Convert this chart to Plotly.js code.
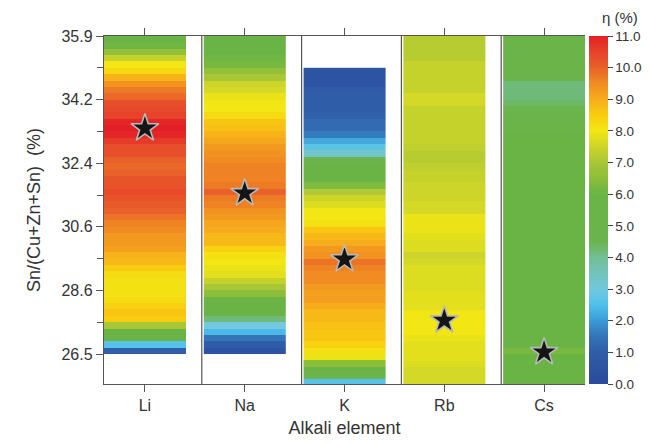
<!DOCTYPE html>
<html>
<head>
<meta charset="utf-8">
<script src="https://cdn.plot.ly/plotly-3.0.1.min.js"></script>
<style>html,body{margin:0;padding:0;background:#fff;}#chart{width:649px;height:444px;}</style>
</head>
<body>
<div id="chart"></div>
<script>
// Categories (alkali elements)
const elements = ["Li", "Na", "K", "Rb", "Cs"];

// Y axis tick labels: Sn/(Cu+Zn+Sn) (%) at equally spaced index positions 0..5
const snTickLabels = ["26.5", "28.6", "30.6", "32.4", "34.2", "35.9"];

// Top of each strip, in axis index units
const stripTop = [5, 5, 4.5, 5, 5];
const rowStep = 0.1;

// Efficiency (%) per stripe, listed from the top of the strip downward
const effLi = [6.0,6.1,6.6,7.4,8.0,8.3,8.9,9.4,9.7,9.9,
               10.3,10.4,10.5,10.9,11.0,10.9,10.6,10.3,10.3,10.0,
               9.9,10.0,10.2,10.2,10.4,10.2,10.1,10.0,9.8,9.6,
               9.5,9.3,9.3,9.2,8.9,8.8,8.5,8.2,8.1,8.1,
               8.1,8.2,8.4,8.6,8.5,7.0,6.0,5.8,2.6,1.0];
const effNa = [6.0,6.0,6.0,6.1,6.2,6.6,7.0,7.5,7.6,7.9,
               8.0,8.0,8.2,8.6,8.7,8.9,9.1,9.3,9.4,9.5,
               9.6,9.6,9.6,9.7,10.0,9.7,9.6,9.4,9.3,9.1,
               9.0,8.8,8.8,8.4,8.1,8.0,7.9,7.8,7.4,7.0,
               6.5,6.0,6.0,5.8,4.2,3.0,2.4,1.5,1.0,0.5];
const effK  = [0.5,0.5,0.6,0.9,1.0,1.0,1.0,1.1,1.3,1.3,
               1.6,2.2,2.7,3.3,4.5,5.8,6.0,6.0,6.3,7.1,
               7.5,7.7,8.0,8.0,8.1,8.6,8.8,9.0,9.3,9.4,
               9.8,9.6,9.5,9.5,9.3,9.2,9.2,9.0,8.8,8.8,
               8.7,8.6,8.6,8.4,8.1,7.9,6.5,6.0,4.5,2.6];
const effRb = [7.2,7.2,7.2,7.2,7.4,7.4,7.4,7.4,7.4,7.6,
               7.6,7.4,7.4,7.4,7.4,7.4,7.4,7.3,7.2,7.2,
               7.3,7.4,7.4,7.5,7.5,7.5,7.6,7.6,7.9,7.9,
               7.9,7.8,7.7,7.7,7.5,7.6,7.7,7.7,7.7,7.7,
               7.8,7.8,7.8,8.0,8.0,8.0,8.0,7.9,7.8,7.8,
               7.8,7.7,7.6,7.6,7.6];
const effCs = [5.5,5.5,5.5,5.5,5.4,5.2,4.6,4.2,4.2,4.2,
               4.3,4.8,5.0,5.4,5.6,5.8,6.0,6.0,6.0,6.0,
               6.0,6.0,6.0,6.0,6.0,6.0,6.0,6.0,6.0,6.0,
               6.0,6.0,6.0,6.0,6.0,6.0,6.0,6.0,6.0,6.0,
               6.0,6.0,6.0,6.0,6.0,6.0,6.0,6.0,6.0,6.2,
               6.0,6.0,6.0,6.0,6.0];
const effColumns = [effLi, effNa, effK, effRb, effCs];

// Best composition (star) per element, in axis index units
const starRow = [3.55, 2.53, 1.49, 0.53, 0.03];

const colorscale = [
  [0/11, "#2b4a9b"], [1/11, "#2f5da8"], [1.5/11, "#3474b8"], [2/11, "#3b9ad6"],
  [2.5/11, "#4fc0ec"], [3/11, "#72c8de"], [4/11, "#72be95"], [4.5/11, "#6cb44e"],
  [6/11, "#6ab446"], [6.5/11, "#8cbe3a"], [7/11, "#a9c636"], [7.5/11, "#cdd52a"],
  [8/11, "#f2e614"], [8.5/11, "#f9cd0f"], [9/11, "#f6ac1c"], [9.5/11, "#f08c22"],
  [10/11, "#e9602a"], [10.5/11, "#e6432a"], [11/11, "#e31f26"]
];

const halfW = 0.41;
const font = "Liberation Sans, Arial, sans-serif";
const traces = [];
effColumns.forEach((col, i) => {
  const n = col.length;
  const zRows = col.slice().reverse().map(v => [v]);
  const yEdges = [];
  for (let k = 0; k <= n; k++) yEdges.push(stripTop[i] - rowStep * n + rowStep * k);
  traces.push({
    type: "heatmap",
    x: [i - halfW, i + halfW],
    y: yEdges,
    z: zRows,
    zmin: 0, zmax: 11,
    colorscale: colorscale,
    zsmooth: false,
    showscale: i === 0,
    hoverinfo: "skip",
    colorbar: {
      x: 1.006, xanchor: "left", y: 0, yanchor: "bottom", len: 1, lenmode: "fraction",
      thickness: 19, ypad: 0, xpad: 1, outlinewidth: 0,
      tickmode: "linear", tick0: 0, dtick: 1, tickformat: ".1f",
      ticks: "outside", ticklen: 5, tickcolor: "#444",
      tickfont: {family: font, size: 13.5, color: "#333"}
    }
  });
});

traces.push({
  type: "scatter", mode: "markers",
  x: elements.map((_, i) => i),
  y: starRow,
  marker: {symbol: "star", size: 21, color: "#151515", line: {color: "#b8b8b8", width: 1.6}},
  hoverinfo: "skip", showlegend: false
});

const shapes = [];
for (let i = 1; i < elements.length; i++) {
  shapes.push({type: "line", xref: "x", yref: "paper", x0: i - 0.43, x1: i - 0.43, y0: 0, y1: 1,
    line: {color: "#555", width: 1.2}});
}

const layout = {
  width: 649, height: 444,
  margin: {l: 104, r: 64, t: 36, b: 60, autoexpand: false},
  paper_bgcolor: "#fff", plot_bgcolor: "#fff",
  showlegend: false,
  shapes: shapes,
  annotations: [{
    text: "η (%)", xref: "paper", yref: "paper", x: 1.072, y: 1.0, xanchor: "center", yanchor: "bottom",
    yshift: 8, showarrow: false, font: {family: font, size: 15, color: "#333"}
  }],
  xaxis: {
    range: [-halfW, elements.length - 1 + halfW],
    tickmode: "array", tickvals: elements.map((_, i) => i), ticktext: elements,
    ticks: "outside", ticklen: 7, tickcolor: "#555",
    showline: true, linecolor: "#555", linewidth: 1.2, mirror: "ticks",
    showgrid: false, zeroline: false,
    tickfont: {family: font, size: 16, color: "#333"},
    title: {text: "Alkali element", font: {family: font, size: 18, color: "#333"}, standoff: 8}
  },
  yaxis: {
    range: [-0.47, 5],
    tickmode: "array", tickvals: snTickLabels.map((_, i) => i), ticktext: snTickLabels,
    ticks: "outside", ticklen: 7, tickcolor: "#555",
    minor: {tickmode: "linear", tick0: 0.5, dtick: 1, ticks: "outside", ticklen: 6, tickcolor: "#555"},
    showline: true, linecolor: "#555", linewidth: 1.2,
    showgrid: false, zeroline: false,
    tickfont: {family: font, size: 16, color: "#333"},
    title: {text: "Sn/(Cu+Zn+Sn)\u00a0\u00a0(%)", font: {family: font, size: 18, color: "#333"}, standoff: 16}
  },
  yaxis2: {
    overlaying: "y", side: "right", range: [-0.47, 5],
    tickmode: "array", tickvals: snTickLabels.map((_, i) => i), ticktext: snTickLabels.map(() => ""),
    ticks: "inside", ticklen: 6, tickcolor: "#555",
    minor: {tickmode: "linear", tick0: 0.5, dtick: 1, ticks: "inside", ticklen: 6, tickcolor: "#555"},
    showline: false, showgrid: false, zeroline: false, showticklabels: false
  }
};

Plotly.newPlot("chart", traces, layout, {displayModeBar: false, staticPlot: true});
</script>
</body>
</html>
